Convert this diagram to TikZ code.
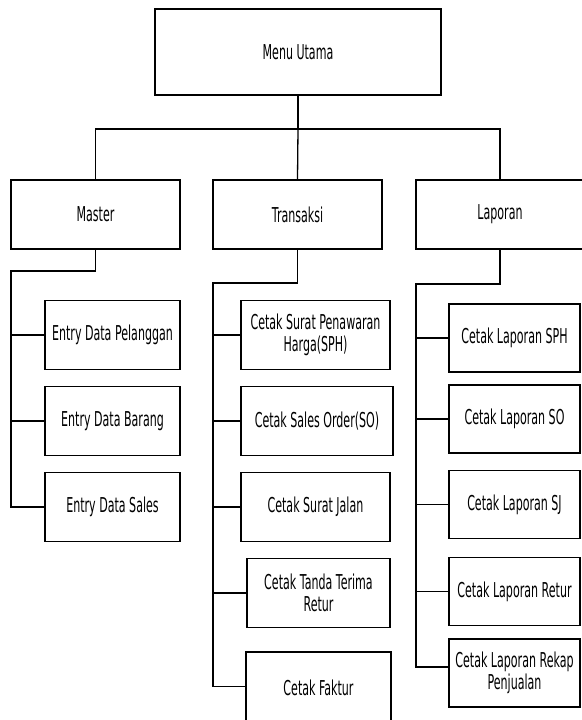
\documentclass[tikz,border=0pt]{standalone}
\usepackage{fontspec}
\setmainfont{DejaVu Sans}[FakeStretch=0.54]
\usetikzlibrary{positioning}
\tikzset{
  box/.style={
    draw, rectangle, inner sep=0mm, line width=1.5pt, align=center,
    font=\fontsize{20.5}{22}\selectfont
  },
  conn/.style={line width=1.3pt}
}

\begin{document}
\begin{tikzpicture}[x=1pt, y=-1pt]
  \useasboundingbox (0,0) rectangle (581,720);

  % level 0 and 1
  \node[box, minimum width=286pt, minimum height=86pt] (menu) at (298, 52) {Menu Utama};
  \node[box, minimum width=169pt, minimum height=69pt] (master) at (95.5, 214.5) {Master};
  \node[box, minimum width=169pt, minimum height=69pt] (trans) at (297.5, 214.5) {Transaksi};
  \node[box, minimum width=168pt, minimum height=69pt] (lap) at (500, 214.5) {Laporan};

  \coordinate (bar) at (298, 129);
  \draw[conn] (menu) -- (bar);
  \draw[conn] (master.north) |- (bar) -| (lap.north);
  \draw[conn] (bar) -- (trans.north);

  % master
  \begin{scope}[box/.append style={minimum width=135pt, minimum height=69pt}]
   \node[box] (ms1) at (112.5, 335) {Entry Data Pelanggan};
   \node[box] (ms2) at (112.5, 421) {Entry Data Barang};
   \node[box] (ms3) at (112.5, 507) {Entry Data Sales};
  \end{scope}
  \coordinate (mtrunk) at (11, 271);
  \draw[conn] (master.south) |- (mtrunk) |- (ms3.west);
  \draw[conn] (mtrunk |- ms1.west) -- (ms1.west);
  \draw[conn] (mtrunk |- ms2.west) -- (ms2.west);

  % transaksi
  \begin{scope}[box/.append style={minimum height=69pt}]
   \node[box, minimum width=149pt] (tr1) at (315.5, 335) {Cetak Surat Penawaran\\Harga(SPH)};
   \node[box, minimum width=152pt] (tr2) at (317, 421) {Cetak Sales Order(SO)};
   \node[box, minimum width=149pt] (tr3) at (315.5, 507) {Cetak Surat Jalan};
   \node[box, minimum width=143pt] (tr4) at (318.5, 593) {Cetak Tanda Terima\\Retur};
   \node[box, minimum width=145pt, minimum height=72pt] (tr5) at (318.5, 688) {Cetak Faktur};
  \end{scope}
  \coordinate (ttrunk) at (213, 283);
  \draw[conn] (trans.south) |- (ttrunk) |- ([yshift=1.5pt]tr5.west);
  \draw[conn] (ttrunk |- tr1.west) -- (tr1.west);
  \draw[conn] (ttrunk |- tr2.west) -- (tr2.west);
  \draw[conn] (ttrunk |- tr3.west) -- (tr3.west);
  \draw[conn] (ttrunk |- tr4.west) -- (tr4.west);

  % laporan
  \begin{scope}[box/.append style={minimum width=131pt, minimum height=68pt}]
   \node[box] (lp1) at (514.5, 338) {Cetak Laporan SPH};
   \node[box] (lp2) at (514.5, 419) {Cetak Laporan SO};
   \node[box] (lp3) at (514.5, 504.5) {Cetak Laporan SJ};
   \node[box] (lp4) at (514.5, 591.5) {Cetak Laporan Retur};
   \node[box] (lp5) at (514.5, 673) {Cetak Laporan Rekap\\Penjualan};
  \end{scope}
  \coordinate (ltrunk) at (416, 284);
  \draw[conn] (lap.south) |- (ltrunk) |- ([yshift=6pt]lp5.west);
  \draw[conn] (ltrunk |- lp1.west) -- (lp1.west);
  \draw[conn] (ltrunk |- lp2.west) -- (lp2.west);
  \draw[conn] (ltrunk |- lp3.west) -- (lp3.west);
  \draw[conn] (ltrunk |- lp4.west) -- (lp4.west);
\end{tikzpicture}
\end{document}
